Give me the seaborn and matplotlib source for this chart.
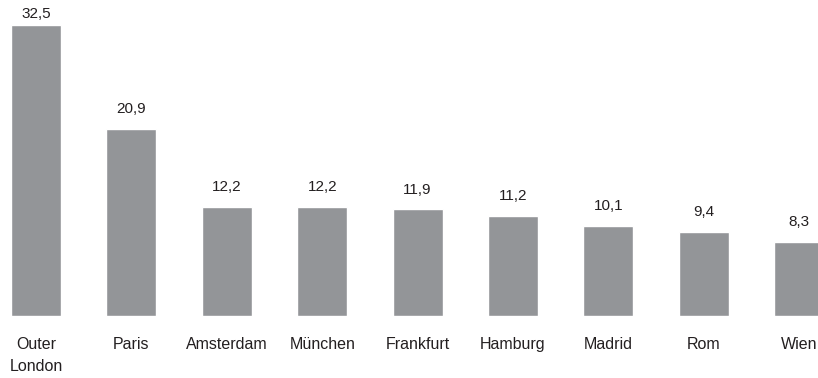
import matplotlib
matplotlib.use("Agg")
import matplotlib.pyplot as plt
import seaborn as sns
import pandas as pd

# Figures per city
cities = ["Outer\nLondon", "Paris", "Amsterdam", "München", "Frankfurt",
          "Hamburg", "Madrid", "Rom", "Wien"]
values = [32.5, 20.9, 12.2, 12.2, 11.9, 11.2, 10.1, 9.4, 8.3]

sns.set_theme(style="white")
plt.rcParams["font.family"] = ["Liberation Sans", "DejaVu Sans"]

df = pd.DataFrame({"city": cities, "value": values})

fig = plt.figure(figsize=(8.18, 3.78), dpi=100)
ax = fig.add_axes([0, 62 / 378, 1, 1 - 62 / 378])

sns.barplot(data=df, x="city", y="value", color="#939598", saturation=1,
            width=0.524, ax=ax)

ax.set_xlim(-36 / 95.4, (818 - 36) / 95.4)
ax.set_ylim(0, 316 / 8.95)

labels = [f"{v:.1f}".replace(".", ",") for v in values]
texts = ax.bar_label(ax.containers[0], labels=labels, padding=9,
                     fontsize=11, color="#231f20")
# tallest bar sits close to the top edge, so its label hugs the bar
texts[0].xyann = (0, 3)

ax.set_xlabel("")
ax.set_ylabel("")
ax.set_yticks([])
ax.tick_params(axis="x", length=0, pad=15, labelsize=11.5, labelcolor="#231f20")
for t in ax.get_xticklabels():
    t.set_linespacing(1.6)
    t.set_verticalalignment("top")
sns.despine(ax=ax, left=True, bottom=True)

fig.savefig("out.png", dpi=100)
